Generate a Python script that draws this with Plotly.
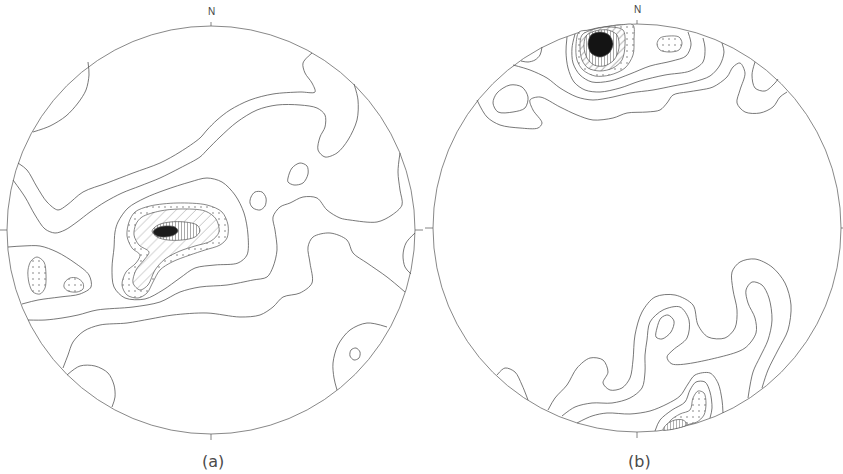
import plotly.graph_objects as go

# ---------------------------------------------------------------------------
# Pole-density contour diagrams on two equal-area nets, (a) and (b).
# Every contour is stored as (east, north) points in net units, where the
# primitive circle has radius NET_RADIUS and north is up.
# ---------------------------------------------------------------------------
W, H = 843, 474
NET_RADIUS = 204
CENTRE_A = (211, 230)
CENTRE_B = (637, 228)
NET_LABELS = ["(a)", "(b)"]
NORTH_LABEL = "N"

# ----------------------------- net (a) -------------------------------------
A_NW_LOBE = [(-123, 168), (-122, 155), (-125, 140), (-133, 127), (-145, 114),
             (-161, 104), (-178, 98)]
A_BAND_UPPER = [(101, 177), (92, 167), (94, 157), (101, 147), (104, 138), (89, 138),
                (62, 136), (39, 130), (19, 120), (6, 110), (-4, 100), (-11, 92),
                (-31, 78), (-51, 67), (-78, 57), (-104, 47), (-128, 38), (-144, 25),
                (-153, 20), (-164, 28), (-174, 43), (-184, 60), (-193, 67)]
A_BAND_LOWER = [(143, 146), (147, 130), (146, 110), (137, 90), (126, 77), (114, 73),
                (107, 80), (109, 93), (114, 103), (114, 115), (106, 122), (89, 125),
                (66, 125), (46, 120), (26, 108), (9, 93), (-4, 80), (-11, 73),
                (-31, 62), (-51, 52), (-71, 44), (-89, 37), (-106, 28), (-121, 18),
                (-134, 8), (-146, 0), (-156, -3), (-166, 1), (-176, 15), (-186, 33),
                (-198, 50)]
A_MAX_RING = [(-93, 8), (-83, 22), (-66, 32), (-46, 40), (-21, 48), (-4, 52), (11, 48),
              (24, 35), (33, 17), (37, -5), (36, -25), (27, -33), (4, -35), (-16, -38),
              (-31, -48), (-48, -60), (-66, -69), (-86, -68), (-97, -57), (-99, -38),
              (-97, -18), (-96, -2)]
A_MAX_DOTS = [(-76, 18), (-61, 24), (-34, 27), (-4, 25), (11, 18), (17, 5), (16, -8),
              (9, -15), (-6, -20), (-21, -25), (-39, -32), (-51, -40), (-58, -52),
              (-64, -63), (-73, -68), (-84, -65), (-89, -55), (-85, -42), (-75, -33),
              (-71, -25), (-79, -18), (-84, -6), (-82, 8)]
A_MAX_HATCH = [(-69, 13), (-51, 19), (-31, 21), (-6, 19), (5, 11), (8, -2), (0, -11),
               (-16, -16), (-31, -21), (-46, -29), (-56, -40), (-63, -55), (-71, -60),
               (-78, -53), (-75, -40), (-67, -30), (-62, -22), (-72, -15), (-77, -5),
               (-75, 6)]
A_MAX_BARS = [(-59, -1), (-53, 5), (-41, 8), (-26, 8), (-14, 5), (-11, -1), (-16, -7),
              (-29, -10), (-43, -10), (-54, -7)]
A_MAX_CORE = [(-58, -2), (-54, 2), (-46, 4), (-36, 3), (-33, -1), (-37, -5), (-46, -7),
              (-54, -6)]
A_SPOT_1 = [(40, 33), (44, 38), (51, 38), (55, 32), (54, 24), (49, 20), (42, 22), (39, 27)]
A_SPOT_2 = [(77, 52), (81, 62), (89, 67), (96, 64), (97, 56), (92, 47), (83, 45), (77, 48)]
A_WEST_LOBE = [(-203, -17), (-188, -16), (-171, -16), (-154, -22), (-136, -33),
               (-122, -45), (-120, -57), (-131, -64), (-151, -67), (-173, -70),
               (-189, -74)]
A_WEST_DOTS_1 = [(-174, -27), (-167, -32), (-165, -45), (-166, -58), (-171, -64),
                 (-178, -62), (-182, -53), (-183, -40), (-180, -31)]
A_WEST_DOTS_2 = [(-146, -52), (-141, -48), (-134, -48), (-128, -53), (-128, -59),
                 (-134, -62), (-143, -61), (-147, -57)]
A_MID = [(-183, -90), (-166, -90), (-149, -88), (-133, -85), (-114, -80), (-78, -77),
         (-51, -72), (-31, -62), (-11, -57), (16, -55), (42, -50), (56, -47), (62, -37),
         (66, -20), (64, 0), (62, 13), (69, 23), (79, 27), (92, 33), (106, 32),
         (116, 20), (129, 12), (139, 10), (166, 8), (181, 15), (191, 25), (189, 40),
         (187, 58), (189, 77)]
A_LOW = [(-148, -138), (-143, -125), (-138, -112), (-127, -101), (-111, -95),
         (-84, -93), (-61, -89), (-38, -85), (-4, -83), (29, -87), (49, -85), (62, -77),
         (72, -67), (89, -63), (101, -53), (99, -33), (97, -17), (102, -7), (119, -3),
         (136, -10), (142, -23), (156, -33), (176, -47), (194, -62)]
A_EAST_LOBE = [(204, -3), (195, -13), (192, -25), (194, -37), (200, -44)]
A_SW_LOBE = [(-144, -145), (-131, -136), (-116, -136), (-103, -143), (-97, -155),
             (-96, -167), (-99, -177)]
A_SE_LOBE = [(176, -97), (156, -93), (139, -100), (127, -115), (122, -133),
             (123, -148), (126, -160)]
A_SE_SPOT = [(140, -120), (145, -118), (149, -122), (148, -128), (143, -130), (139, -126)]

# ----------------------------- net (b) -------------------------------------
B_NW_LOBE = [(-95, 181), (-97, 173), (-102, 168), (-109, 166), (-116, 167)]
B_WEST_SPOT = [(-144, 125), (-140, 135), (-127, 143), (-115, 141), (-109, 131),
               (-112, 120), (-124, 116), (-139, 116)]
B_TOP_1 = [(-62, 194), (-65, 180), (-64, 165), (-57, 153), (-45, 146), (-27, 147),
           (-7, 154), (13, 162), (35, 167), (49, 172), (54, 183), (51, 196)]
B_TOP_2 = [(-70, 191), (-71, 176), (-69, 160), (-63, 146), (-52, 138), (-37, 136),
           (-17, 140), (3, 147), (28, 153), (53, 157), (66, 166), (68, 180), (66, 190)]
B_TOP_3 = [(-124, 163), (-107, 158), (-90, 150), (-77, 140), (-60, 131), (-44, 128),
           (-24, 131), (-7, 135), (16, 138), (36, 142), (56, 146), (73, 152), (83, 163),
           (87, 176), (85, 185)]
B_TOP_4 = [(-160, 128), (-150, 111), (-137, 103), (-117, 100), (-99, 100), (-95, 105),
           (-104, 118), (-107, 128), (-97, 131), (-77, 121), (-60, 113), (-44, 108),
           (-24, 110), (-10, 115), (10, 116), (23, 118), (30, 125), (36, 133), (50, 136),
           (63, 138), (76, 141), (90, 151), (96, 161), (103, 165), (108, 155),
           (103, 138), (100, 125), (108, 116), (123, 115), (136, 121), (143, 131),
           (150, 136)]
B_NE_LOBE = [(118, 166), (115, 153), (118, 140), (128, 137), (138, 145), (141, 149)]
B_MAX_DOTS = [(-58, 196), (-61, 183), (-60, 168), (-54, 158), (-42, 152), (-27, 153),
              (-12, 160), (-4, 173), (-3, 188), (-4, 203), (-17, 203), (-32, 201),
              (-47, 198)]
B_MAX_HATCH = [(-55, 193), (-57, 181), (-55, 168), (-49, 160), (-37, 157), (-24, 160),
               (-15, 168), (-12, 183), (-14, 198), (-29, 201), (-42, 199)]
B_MAX_BARS = [(-51, 192), (-53, 181), (-50, 170), (-43, 163), (-33, 162), (-23, 168),
              (-18, 180), (-20, 193), (-29, 198), (-42, 197)]
B_MAX_CORE = [(-37, 196), (-28, 193), (-24, 184), (-28, 175), (-37, 171), (-46, 175),
              (-49, 184), (-46, 193)]
B_EAST_DOTS = [(20, 184), (23, 190), (32, 192), (42, 191), (45, 185), (42, 178),
               (32, 176), (23, 178)]
B_SW_LOBE = [(-140, -147), (-132, -140), (-122, -144), (-115, -157), (-109, -172)]
B_SOUTH_1 = [(-89, -182), (-82, -170), (-70, -157), (-60, -140), (-47, -130),
             (-34, -132), (-29, -144), (-34, -155), (-27, -162), (-15, -160),
             (-7, -150), (-4, -132), (-2, -107), (5, -84), (18, -69), (38, -67),
             (56, -77), (61, -97), (71, -109), (88, -110), (98, -100), (100, -82),
             (96, -62), (95, -44), (103, -34), (118, -31), (135, -39), (148, -55),
             (154, -77), (151, -102), (141, -122), (131, -142), (125, -160)]
B_SOUTH_2 = [(-75, -188), (-62, -179), (-45, -175), (-25, -175), (-7, -170), (5, -160),
             (8, -144), (8, -127), (10, -112), (13, -94), (26, -82), (43, -79),
             (52, -92), (50, -110), (36, -122), (30, -129), (35, -136), (83, -129),
             (108, -120), (119, -105), (118, -90), (111, -75), (109, -62), (115, -54),
             (125, -57), (132, -70), (135, -92), (131, -112), (123, -129), (116, -144),
             (111, -170)]
B_SOUTH_EYE = [(20, -100), (24, -90), (31, -87), (37, -93), (34, -104), (25, -111),
               (19, -109)]
B_SOUTH_3 = [(-60, -195), (-45, -188), (-30, -185), (-7, -186), (13, -183), (30, -176),
             (43, -168), (51, -156), (58, -147), (73, -145), (81, -155), (85, -172),
             (86, -185)]
B_SOUTH_4 = [(18, -203), (23, -192), (35, -182), (48, -174), (53, -162), (59, -154),
             (68, -154), (73, -164), (75, -180), (73, -190)]
B_SOUTH_DOTS = [(31, -201), (33, -193), (43, -186), (53, -182), (56, -170), (61, -163),
                (67, -165), (69, -175), (67, -187), (60, -194), (53, -196), (43, -199)]
B_SOUTH_HATCH = [(26, -202), (30, -196), (38, -192), (46, -192), (50, -196), (48, -198)]

INK = "#555555"
DOT_INK = "#6e6e6e"
PAPER = "#ffffff"


def to_page(points, centre, closed=False):
    cx, cy = centre
    pts = list(points) + (list(points[:1]) if closed else [])
    return [cx + e for e, _ in pts], [cy - n for _, n in pts]


fig = go.Figure()


def add_line(points, centre, closed=False, width=0.8):
    xs, ys = to_page(points, centre, closed)
    fig.add_trace(go.Scatter(
        x=xs, y=ys, mode="lines", hoverinfo="skip", showlegend=False,
        line=dict(color=INK, width=width, shape="spline", smoothing=0.9)))


def add_patch(points, centre, pattern=None, solid=None, size=5, solidity=0.2,
              ink=INK):
    xs, ys = to_page(points, centre, closed=True)
    kw = dict(x=xs, y=ys, mode="lines", fill="toself", hoverinfo="skip",
              showlegend=False,
              line=dict(color=INK, width=0.7, shape="spline", smoothing=0.9))
    if solid:
        kw["fillcolor"] = solid
    else:
        kw["fillcolor"] = PAPER
        kw["fillpattern"] = dict(shape=pattern, fgcolor=ink, bgcolor=PAPER,
                                 size=size, solidity=solidity)
    fig.add_trace(go.Scatter(**kw))


# --- net (a)
for pts in (A_NW_LOBE, A_BAND_UPPER, A_BAND_LOWER, A_WEST_LOBE, A_MID, A_LOW,
            A_EAST_LOBE, A_SW_LOBE, A_SE_LOBE):
    add_line(pts, CENTRE_A)
for pts in (A_MAX_RING, A_SPOT_1, A_SPOT_2, A_SE_SPOT):
    add_line(pts, CENTRE_A, closed=True)
add_patch(A_WEST_DOTS_1, CENTRE_A, ".", size=6, solidity=0.1, ink=DOT_INK)
add_patch(A_WEST_DOTS_2, CENTRE_A, ".", size=6, solidity=0.1, ink=DOT_INK)
add_patch(A_MAX_DOTS, CENTRE_A, ".", size=6, solidity=0.1, ink=DOT_INK)
add_patch(A_MAX_HATCH, CENTRE_A, "/", size=7, solidity=0.1)
add_patch(A_MAX_BARS, CENTRE_A, "|", size=3, solidity=0.35)
add_patch(A_MAX_CORE, CENTRE_A, solid="#1c1c1c")

# --- net (b)
for pts in (B_NW_LOBE, B_TOP_1, B_TOP_2, B_TOP_3, B_TOP_4, B_NE_LOBE, B_SW_LOBE,
            B_SOUTH_1, B_SOUTH_2, B_SOUTH_3, B_SOUTH_4):
    add_line(pts, CENTRE_B)
for pts in (B_WEST_SPOT, B_SOUTH_EYE):
    add_line(pts, CENTRE_B, closed=True)
add_patch(B_MAX_DOTS, CENTRE_B, ".", size=6, solidity=0.1, ink=DOT_INK)
add_patch(B_MAX_HATCH, CENTRE_B, "/", size=5, solidity=0.18)
add_patch(B_MAX_BARS, CENTRE_B, "|", size=3, solidity=0.35)
add_patch(B_MAX_CORE, CENTRE_B, solid="#141414")
add_patch(B_EAST_DOTS, CENTRE_B, ".", size=6, solidity=0.1, ink=DOT_INK)
add_patch(B_SOUTH_DOTS, CENTRE_B, ".", size=6, solidity=0.1, ink=DOT_INK)
add_patch(B_SOUTH_HATCH, CENTRE_B, "|", size=3, solidity=0.3)

# --- primitive circles, compass ticks and labels
shapes, annotations = [], []
for (cx, cy), label in zip((CENTRE_A, CENTRE_B), NET_LABELS):
    r = NET_RADIUS
    shapes.append(dict(type="circle", xref="x", yref="y", x0=cx - r, x1=cx + r,
                       y0=cy - r, y1=cy + r, line=dict(color="#6a6a6a", width=0.8),
                       layer="below"))
    ticks = [(cx, cy - r - 4, cx, cy - r), (cx, cy + r, cx, cy + r + 6),
             (cx - r - 8, cy, cx - r, cy), (cx + r, cy, cx + r + 8, cy)]
    for x0, y0, x1, y1 in ticks:
        shapes.append(dict(type="line", xref="x", yref="y", x0=x0, y0=y0, x1=x1,
                           y1=y1, line=dict(color="#666666", width=0.8)))
    annotations.append(dict(x=cx, y=cy - r - 15, xref="x", yref="y", text=NORTH_LABEL,
                            showarrow=False,
                            font=dict(family="Liberation Sans", size=10, color="#444444")))
    annotations.append(dict(x=cx + 2, y=461, xref="x", yref="y", text=label,
                            showarrow=False,
                            font=dict(family="DejaVu Sans", size=16, color="#4a4a4a")))

fig.update_layout(
    width=W, height=H, margin=dict(l=0, r=0, t=0, b=0),
    paper_bgcolor=PAPER, plot_bgcolor=PAPER,
    xaxis=dict(range=[0, W], visible=False, fixedrange=True),
    yaxis=dict(range=[H, 0], visible=False, fixedrange=True),
    shapes=shapes, annotations=annotations, showlegend=False,
)

fig.write_html("out.html")
